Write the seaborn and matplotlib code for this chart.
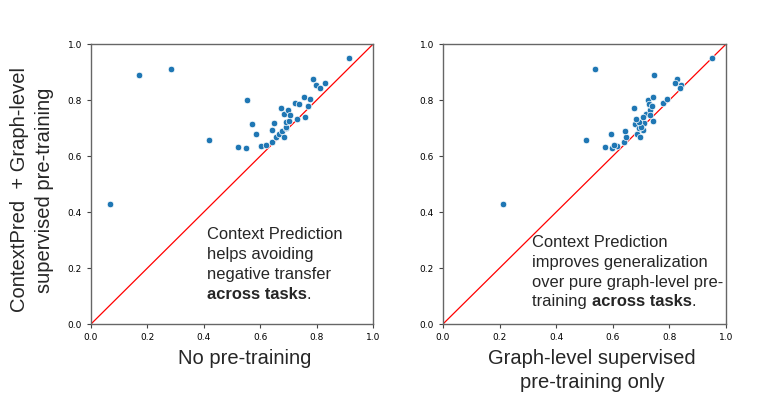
import numpy as np
import pandas as pd
import matplotlib
matplotlib.use("Agg")
import matplotlib.pyplot as plt
import seaborn as sns

# shared y: ContextPred + Graph-level supervised pre-training
y_both = [0.430, 0.891, 0.911, 0.658, 0.631, 0.629, 0.799, 0.713, 0.679, 0.637,
          0.638, 0.652, 0.693, 0.717, 0.669, 0.678, 0.772, 0.688, 0.751, 0.667,
          0.702, 0.703, 0.723, 0.726, 0.763, 0.748, 0.791, 0.732, 0.785, 0.810,
          0.741, 0.778, 0.805, 0.876, 0.854, 0.844, 0.860, 0.949]
# x on the left: no pre-training
x_none = [0.067, 0.171, 0.282, 0.418, 0.522, 0.551, 0.554, 0.571, 0.584, 0.603,
          0.622, 0.640, 0.640, 0.648, 0.655, 0.667, 0.674, 0.677, 0.683, 0.685,
          0.690, 0.693, 0.693, 0.701, 0.700, 0.706, 0.723, 0.730, 0.738, 0.756,
          0.758, 0.769, 0.776, 0.786, 0.799, 0.813, 0.828, 0.915]
# x on the right: graph-level supervised pre-training only
x_graph = [0.211, 0.745, 0.536, 0.506, 0.573, 0.596, 0.725, 0.678, 0.593, 0.616,
           0.605, 0.639, 0.708, 0.711, 0.646, 0.684, 0.675, 0.642, 0.716, 0.696,
           0.694, 0.700, 0.691, 0.742, 0.733, 0.731, 0.776, 0.682, 0.728, 0.741,
           0.706, 0.739, 0.793, 0.828, 0.842, 0.838, 0.821, 0.952]

sns.set_style("ticks")
plt.rcParams["font.family"] = ["Liberation Sans", "DejaVu Sans"]

fig = plt.figure(figsize=(7.63, 4.05), dpi=100)
ax1 = fig.add_axes([0.1193, 0.2, 0.3696, 0.691])
ax2 = fig.add_axes([0.5806, 0.2, 0.3709, 0.691])

df = pd.DataFrame({"none": x_none, "graph": x_graph, "both": y_both})

for ax, col in [(ax1, "none"), (ax2, "graph")]:
    sns.scatterplot(data=df, x=col, y="both", ax=ax, s=22, color="#1f77b4",
                    edgecolor="white", linewidth=0.5, zorder=3)
    ax.plot([0, 1], [0, 1], color="red", lw=0.9, zorder=2)
    ax.set_xlim(0, 1)
    ax.set_ylim(0, 1)
    ax.set_xticks(np.arange(0, 1.01, 0.2))
    ax.set_yticks(np.arange(0, 1.01, 0.2))
    ax.tick_params(labelsize=6.5, length=3, width=0.8, colors="#444444",
                   labelcolor="black")
    for t in ax.get_xticklabels() + ax.get_yticklabels():
        t.set_fontfamily("DejaVu Sans")
    for sp in ax.spines.values():
        sp.set_visible(True)
        sp.set_color("#666666")
        sp.set_linewidth(1.0)
    ax.set_ylabel("")

ax1.set_xlabel("No pre-training", fontsize=14.5)
ax1.xaxis.set_label_coords(0.546, -0.09)
ax1.set_ylabel("ContextPred  + Graph-level\nsupervised pre-training", fontsize=14.5,
               linespacing=1.4)
ax1.yaxis.set_label_coords(-0.13, 0.479)

ax2.set_xlabel("Graph-level supervised\npre-training only", fontsize=14.5,
               linespacing=1.35)
ax2.xaxis.set_label_coords(0.527, -0.09)

fs = 11.9
t1 = ax1.text(0.41, 0.345, "Context Prediction\nhelps avoiding\nnegative transfer",
              fontsize=fs, va="top", ha="left", linespacing=1.4)
b1 = ax1.annotate("across tasks", xy=(0, 0), xycoords=t1, xytext=(0, -3.3),
                  textcoords="offset points", fontsize=fs, fontweight="bold",
                  va="top", ha="left")
ax1.annotate(".", xy=(1, 0), xycoords=b1, fontsize=fs, va="bottom", ha="left")

t2 = ax2.text(0.315, 0.317,
              "Context Prediction\nimproves generalization\nover pure graph-level pre-",
              fontsize=fs, va="top", ha="left", linespacing=1.4)
n2 = ax2.annotate("training ", xy=(0, 0), xycoords=t2, xytext=(0, -3.3),
                  textcoords="offset points", fontsize=fs, va="top", ha="left")
b2 = ax2.annotate("across tasks", xy=(1, 0), xycoords=n2, fontsize=fs,
                  fontweight="bold", va="bottom", ha="left")
ax2.annotate(".", xy=(1, 0), xycoords=b2, fontsize=fs, va="bottom", ha="left")

fig.savefig("out.png", dpi=100)
